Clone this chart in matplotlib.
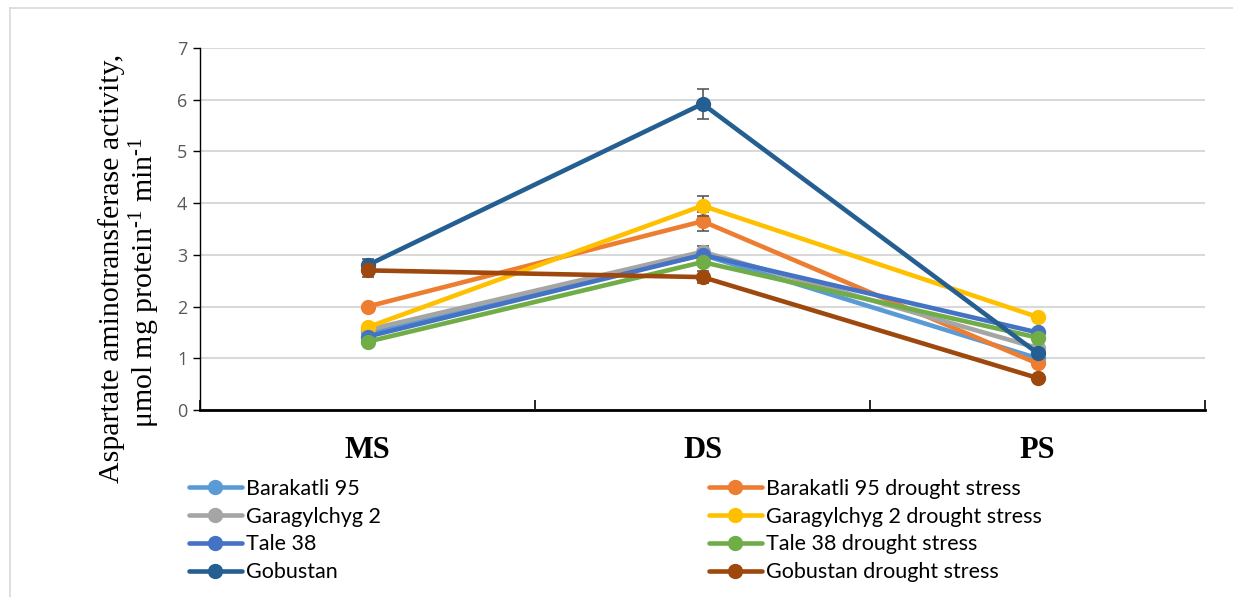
import matplotlib
matplotlib.use("Agg")
import matplotlib.pyplot as plt
from matplotlib.lines import Line2D
import numpy as np

plt.rcParams['mathtext.fontset'] = 'custom'
plt.rcParams['mathtext.rm'] = 'Liberation Serif'
plt.rcParams['mathtext.it'] = 'Liberation Serif:italic'
plt.rcParams['mathtext.bf'] = 'Liberation Serif:bold'

stages = ["MS", "DS", "PS"]
series_names = ["Barakatli 95", "Barakatli 95 drought stress",
                "Garagylchyg 2", "Garagylchyg 2 drought stress",
                "Tale 38", "Tale 38 drought stress",
                "Gobustan", "Gobustan drought stress"]
barakatli_95 = [1.5, 3.0, 1.0]
barakatli_95_ds = [2.0, 3.65, 0.9]
garagylchyg_2 = [1.55, 3.06, 1.2]
garagylchyg_2_ds = [1.6, 3.95, 1.8]
tale_38 = [1.42, 3.0, 1.5]
tale_38_ds = [1.32, 2.86, 1.4]
gobustan = [2.8, 5.92, 1.1]
gobustan_ds = [2.7, 2.57, 0.62]

err_barakatli_95 = [0.0, 0.0, 0.0]
err_barakatli_95_ds = [0.0, 0.18, 0.0]
err_garagylchyg_2 = [0.0, 0.12, 0.0]
err_garagylchyg_2_ds = [0.0, 0.19, 0.0]
err_tale_38 = [0.0, 0.0, 0.0]
err_tale_38_ds = [0.0, 0.0, 0.0]
err_gobustan = [0.12, 0.29, 0.0]
err_gobustan_ds = [0.12, 0.12, 0.0]

values = [barakatli_95, barakatli_95_ds, garagylchyg_2, garagylchyg_2_ds,
          tale_38, tale_38_ds, gobustan, gobustan_ds]
errors = [err_barakatli_95, err_barakatli_95_ds, err_garagylchyg_2, err_garagylchyg_2_ds,
          err_tale_38, err_tale_38_ds, err_gobustan, err_gobustan_ds]
colors = ["#5B9BD5", "#ED7D31", "#A5A5A5", "#FFC000",
          "#4472C4", "#70AD47", "#255E91", "#9E480E"]

W, H = 1233, 597
fig = plt.figure(figsize=(W / 100, H / 100), dpi=100)
ax = fig.add_axes([200 / W, 1 - 410 / H, (1205 - 200) / W, (410 - 48) / H])

x = np.arange(len(stages))
handles = []
for i, (name, vals, errs, c) in enumerate(zip(series_names, values, errors, colors)):
    ax.errorbar(x, vals, yerr=errs, fmt='none', ecolor='#595959', elinewidth=1.2,
                capsize=4.3, capthick=1.2, zorder=2 + i * 0.1)
    ln, = ax.plot(x, vals, color=c, lw=3.3, marker='o', ms=10, zorder=2.05 + i * 0.1,
                  solid_capstyle='round', label=name)
    handles.append(ln)

ax.set_xlim(-0.5, 2.5)
ax.set_ylim(0, 7)
ax.set_yticks(range(0, 8))
ax.yaxis.grid(True, color='#D9D9D9', lw=1.5)
ax.set_axisbelow(True)
for s in ['top', 'right']:
    ax.spines[s].set_visible(False)
ax.spines['left'].set_color('black')
ax.spines['left'].set_linewidth(1.0)
ax.spines['bottom'].set_color('black')
ax.spines['bottom'].set_linewidth(2.0)
ax.tick_params(axis='y', direction='out', length=5, width=1, color='black',
               labelsize=13, labelcolor='#595959', pad=4)
for lab in ax.get_yticklabels():
    lab.set_fontfamily('Open Sans')
ax.set_xticks(x)
ax.set_xticklabels(stages, fontfamily='Liberation Serif', fontweight='bold', fontsize=22)
ax.tick_params(axis='x', which='major', length=0, pad=19)
ax.set_xticks([-0.5, 0.5, 1.5, 2.5], minor=True)
ax.tick_params(axis='x', which='minor', direction='in', length=7, width=1.2, color='black')

# y-axis label (two lines)
fig.text(112 / W, 1 - 268 / H, "Aspartate aminotransferase activity,", rotation=90,
         ha='center', va='center', fontfamily='Liberation Serif', fontsize=21.5)
fig.text(145 / W, 1 - 283 / H, r"μmol mg protein$^{\text{-1}}$ min$^{\text{-1}}$", rotation=90,
         ha='center', va='center', fontfamily='Liberation Serif', fontsize=21.5)

# legends
left_h = [handles[0], handles[2], handles[4], handles[6]]
right_h = [handles[1], handles[3], handles[5], handles[7]]
common = dict(frameon=False, handlelength=2.45, handletextpad=0.2, labelspacing=0.36,
              borderaxespad=0, borderpad=0, prop={'family': 'Lato', 'size': 15.5})
leg1 = fig.legend(handles=left_h, loc='upper left', bbox_to_anchor=(189 / W, 1 - 479 / H), **common)
leg2 = fig.legend(handles=right_h, loc='upper left', bbox_to_anchor=(709 / W, 1 - 479 / H), **common)
for leg in (leg1, leg2):
    for t in leg.get_texts():
        t.set_color('black')
    for lh in leg.legend_handles:
        lh.set_markersize(10)

# outer frame
fig.add_artist(Line2D([10 / W, 1], [1 - 8 / H, 1 - 8 / H], transform=fig.transFigure,
                      color='#D9D9D9', lw=1.2))
fig.add_artist(Line2D([10 / W, 10 / W], [0, 1 - 8 / H], transform=fig.transFigure,
                      color='#D9D9D9', lw=1.2))

fig.savefig("out.png", dpi=100)
